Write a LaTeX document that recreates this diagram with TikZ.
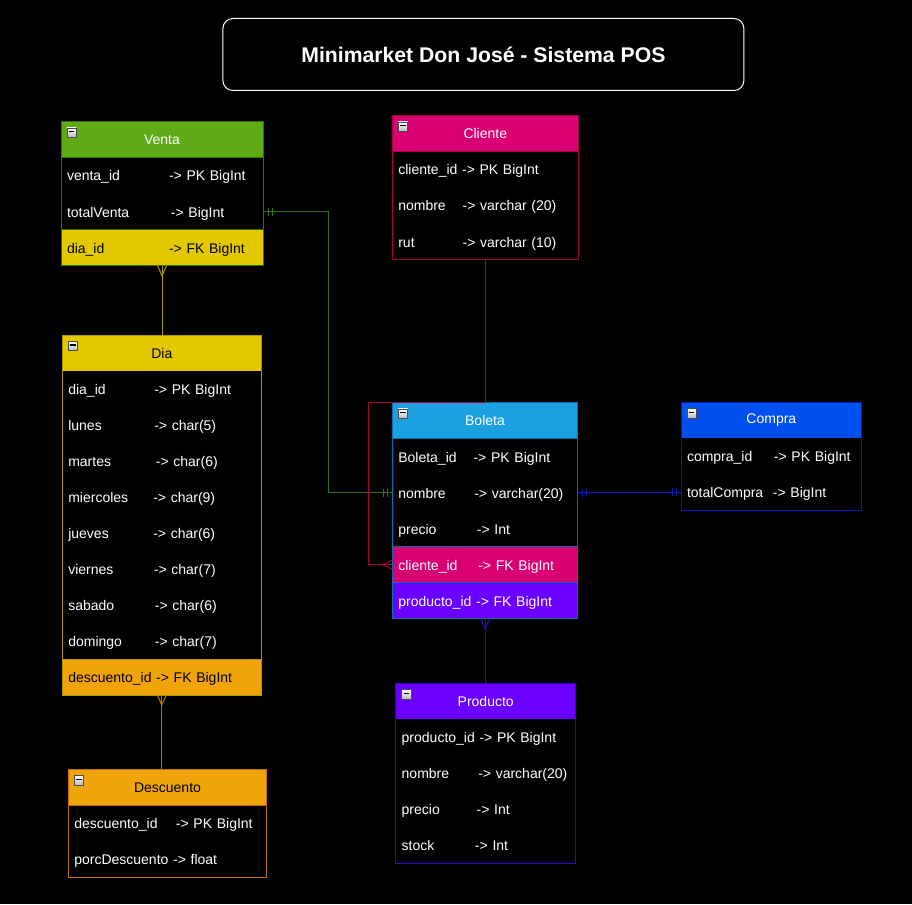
\documentclass[tikz,border=0pt]{standalone}
\usepackage{fontspec}
\setmainfont{Liberation Sans}
\usetikzlibrary{calc}

\definecolor{ventafill}{HTML}{60A917}
\definecolor{ventaline}{HTML}{2D7600}
\definecolor{diafill}{HTML}{E3C800}
\definecolor{dialine}{HTML}{B09500}
\definecolor{descfill}{HTML}{F0A30A}
\definecolor{descline}{HTML}{BD7000}
\definecolor{clifill}{HTML}{D80073}
\definecolor{cliline}{HTML}{A50040}
\definecolor{bolfill}{HTML}{1BA1E2}
\definecolor{bolline}{HTML}{006EAF}
\definecolor{comfill}{HTML}{0050EF}
\definecolor{comline}{HTML}{001DBC}
\definecolor{profill}{HTML}{6A00FF}
\definecolor{proline}{HTML}{3700CC}

% name column, then the type at a fixed offset
\newcommand\fld[3]{\makebox[#1pt][l]{#2}#3}

\begin{document}
\begin{tikzpicture}[x=1pt, y=-1pt, line width=1pt,
    font=\fontsize{14}{16}\selectfont,
    tblhead/.style={draw, anchor=north west, minimum height=36, inner xsep=6pt, inner ysep=0pt,
      outer sep=0pt, text width=#1, align=center, text=white},
    tblrow/.style={anchor=north west, minimum height=36, inner xsep=6pt, inner ysep=0pt,
      outer sep=0pt, text width=#1, text height=15.6pt, text depth=5pt, align=left, text=white, fill=black},
    minusbox/.style={draw=gray!60!black, line width=0.6pt, top color=white, bottom color=gray!55,
      minimum size=9.5, inner sep=0pt,
      path picture={\draw[black, line width=1.4pt] ($(path picture bounding box.west)+(2,-1)$)
        -- ($(path picture bounding box.east)+(-2,-1)$);}},
    conn/.style={line width=1pt},
    pics/one/.style={code={\draw[line width=1pt] (5,-4) -- (5,4) (9,-4) -- (9,4);}},
    pics/many/.style={code={\draw[line width=1pt] (0,-4.5) -- (10,0) -- (0,4.5);}}]

    \fill[black] (0,0) rectangle (912,904);

    \node[draw=white, rounded corners=10pt, minimum width=521, minimum height=72, text=white,
      font=\bfseries\fontsize{21.2}{24}\selectfont] (title) at (483.4,54.5) {Minimarket Don José - Sistema POS};

    % Venta
    \node[tblhead=190pt, fill=ventafill, draw=ventaline] (venta) at (61,121.7) {Venta};
    \node[tblrow=190pt] (venta-id) at (venta.south west) {\fld{102}{venta\_id}{-> PK BigInt}};
    \node[tblrow=190pt] (venta-total) at (venta-id.south west) {\fld{104}{totalVenta}{-> BigInt}};
    \node[tblrow=190pt, fill=diafill, text=black] (venta-dia) at (venta-total.south west) {\fld{102}{dia\_id}{-> FK BigInt}};
    \draw[ventaline] (venta.north west) rectangle (venta-dia.south east);
    \draw[ventaline] (venta-dia.north west) -- (venta-dia.north east);

    % Dia
    \node[tblhead=187pt, fill=diafill, draw=dialine, text=black] (dia) at (62.3,335) {Dia};
    \foreach \nm/\off/\ty [count=\i] in {dia\_id/86/PK BigInt, lunes/86/char(5), martes/87.6/char(6),
        miercoles/85/char(9), jueves/85/char(6), viernes/85.6/char(7), sabado/86.6/char(6), domingo/86.6/char(7)}
      \node[tblrow=187pt] (dia-\i) at ($(dia.south west)+(0,36*\i-36)$) {\fld{\off}{\nm}{-> \ty}};
    \node[tblrow=187pt, fill=descfill, text=black] (dia-desc) at (dia-8.south west) {descuento\_id -> FK BigInt};
    \draw[dialine] (dia.north west) rectangle (dia-desc.south east);
    \draw[dialine] (dia-desc.north west) -- (dia-desc.north east);

    % Descuento
    \node[tblhead=186.4pt, fill=descfill, draw=descline, text=black] (desc) at (68.3,769.5) {Descuento};
    \node[tblrow=186.4pt] (desc-id) at (desc.south west) {\fld{101.7}{descuento\_id}{-> PK BigInt}};
    \node[tblrow=186.4pt] (desc-porc) at (desc-id.south west) {porcDescuento -> float};
    \draw[descline] (desc.north west) rectangle (desc-porc.south east);

    % Cliente
    \node[tblhead=174pt, fill=clifill, draw=cliline] (cli) at (392.3,115.7) {Cliente};
    \node[tblrow=174pt] (cli-id) at (cli.south west) {cliente\_id -> PK BigInt};
    \node[tblrow=174pt] (cli-nom) at (cli-id.south west) {\fld{64.3}{nombre}{-> varchar (20)}};
    \node[tblrow=174pt] (cli-rut) at (cli-nom.south west) {\fld{64.3}{rut}{-> varchar (10)}};
    \draw[cliline] (cli.north west) rectangle (cli-rut.south east);

    % Boleta
    \node[tblhead=173.4pt, fill=bolfill, draw=bolline] (boleta) at (392.3,402.7) {Boleta};
    \node[tblrow=173.4pt] (boleta-id) at (boleta.south west) {\fld{75.3}{Boleta\_id}{-> PK BigInt}};
    \node[tblrow=173.4pt] (boleta-nom) at (boleta-id.south west) {\fld{76}{nombre}{-> varchar(20)}};
    \node[tblrow=173.4pt] (boleta-pre) at (boleta-nom.south west) {\fld{78.6}{precio}{-> Int}};
    \node[tblrow=173.4pt, fill=clifill] (boleta-cli) at (boleta-pre.south west) {\fld{80}{cliente\_id}{-> FK BigInt}};
    \node[tblrow=173.4pt, fill=profill] (boleta-prod) at (boleta-cli.south west) {producto\_id -> FK BigInt};
    \draw[bolline] (boleta.north west) rectangle (boleta-prod.south east);
    \draw[bolline] (boleta-cli.north west) -- (boleta-cli.north east) (boleta-prod.north west) -- (boleta-prod.north east);

    % Compra
    \node[tblhead=168.7pt, fill=comfill, draw=comline] (compra) at (681,402.3) {Compra};
    \node[tblrow=168.7pt] (compra-id) at (compra.south west) {\fld{87}{compra\_id}{-> PK BigInt}};
    \node[tblrow=168.7pt] (compra-total) at (compra-id.south west) {\fld{86}{totalCompra}{-> BigInt}};
    \draw[comline] (compra.north west) rectangle (compra-total.south east);

    % Producto
    \node[tblhead=168pt, fill=profill, draw=proline] (prod) at (395.7,683.3) {Producto};
    \node[tblrow=168pt] (prod-id) at (prod.south west) {producto\_id -> PK BigInt};
    \node[tblrow=168pt] (prod-nom) at (prod-id.south west) {\fld{76.6}{nombre}{-> varchar(20)}};
    \node[tblrow=168pt] (prod-pre) at (prod-nom.south west) {\fld{75}{precio}{-> Int}};
    \node[tblrow=168pt] (prod-stock) at (prod-pre.south west) {\fld{73.3}{stock}{-> Int}};
    \draw[proline] (prod.north west) rectangle (prod-stock.south east);

    % collapse boxes
    \foreach \t in {venta, dia, desc, cli, boleta, compra, prod}
      \node[minusbox] (\t-m) at ($(\t.north west)+(10.7,11)$) {};

    % relations
    \draw[conn, ventaline] (venta-total.east) -- ++(65,0) |- (boleta-nom.west);
    \pic[color=ventaline] at (venta-total.east) {one};
    \pic[color=ventaline, rotate=180] at (boleta-nom.west) {one};

    \draw[conn, dialine] (venta-dia.south) -- (venta-dia.south |- dia.north);
    \pic[color=dialine, rotate=-90] at (venta-dia.south) {many};

    \draw[conn, descline] (dia-desc.south) -- (dia-desc.south |- desc.north);
    \pic[color=descline, rotate=-90] at (dia-desc.south) {many};

    \draw[conn, cliline] (cli-rut.south) |- ($(boleta.north west)+(-24,0)$) |- (boleta-cli.west);
    \pic[color=cliline, rotate=180] at (boleta-cli.west) {many};

    \draw[conn, comline] (boleta-nom.east) -- (compra-total.west);
    \pic[color=comline] at (boleta-nom.east) {one};
    \pic[color=comline, rotate=180] at (compra-total.west) {one};

    \draw[conn, proline] (boleta-prod.south) -- (boleta-prod.south |- prod.north);
    \pic[color=proline, rotate=-90] at (boleta-prod.south) {many};
\end{tikzpicture}
\end{document}
